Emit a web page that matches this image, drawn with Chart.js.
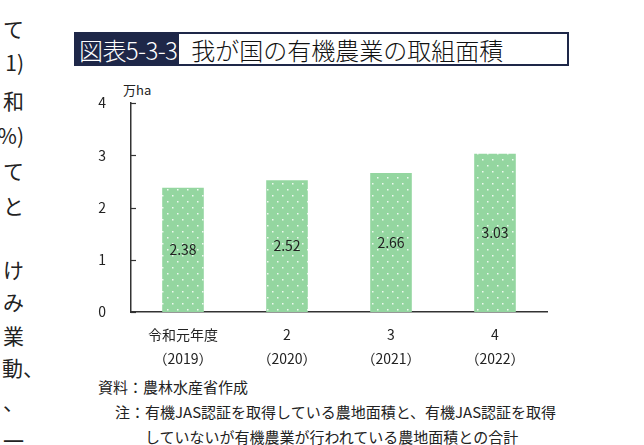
<!DOCTYPE html>
<html lang="ja">
<head>
<meta charset="utf-8">
<script src="https://cdn.jsdelivr.net/npm/chart.js@4.4.0/dist/chart.umd.min.js"></script>
<style>
  html, body { margin: 0; padding: 0; background: #fff; }
  body { width: 644px; height: 445px; position: relative; overflow: hidden;
         font-family: "Noto Sans CJK JP", "Noto Sans", sans-serif; color: #222; }
  #chart { position: absolute; left: 0; top: 0; }
  .side { position: absolute; font-size: 21px; line-height: 1; color: #222; white-space: nowrap; }
  #title { position: absolute; left: 74px; top: 32px; width: 491px; height: 30px;
           border: 2px solid #1e2748; display: flex; align-items: center; font-weight: 300; }
  #title .num { background: #1e2748; color: #fff; height: 100%; display: flex; align-items: center;
                padding: 0 2px 0 3px; font-size: 24px; letter-spacing: -0.6px; }
  #title .txt { font-size: 24px; padding-left: 12px; color: #111; }
  #unit { position: absolute; left: 123px; top: 80px; font-size: 13px; color: #222; }
  .note { position: absolute; font-size: 15px; line-height: 1; white-space: nowrap; color: #222; }
</style>
</head>
<body>
<div class="side" style="right:620px;top:18px">て</div>
<div class="side" style="right:620px;top:52px">1)</div>
<div class="side" style="right:620px;top:90px">和</div>
<div class="side" style="right:620px;top:125px">%)</div>
<div class="side" style="right:620px;top:160px">て</div>
<div class="side" style="right:620px;top:195px">と</div>
<div class="side" style="right:620px;top:259px">け</div>
<div class="side" style="right:620px;top:291px">み</div>
<div class="side" style="right:620px;top:325px">業</div>
<div class="side" style="right:600px;top:357px">動、</div>
<div class="side" style="right:620px;top:391px">、</div>
<div class="side" style="right:620px;top:430px">一</div>

<div id="title"><span class="num">図表5-3-3</span><span class="txt">我が国の有機農業の取組面積</span></div>
<div id="unit">万ha</div>

<canvas id="chart" width="644" height="375"></canvas>

<div class="note" style="left:98px;top:379px">資料：農林水産省作成</div>
<div class="note" style="left:115px;top:404px">注：有機JAS認証を取得している農地面積と、有機JAS認証を取得</div>
<div class="note" style="left:145px;top:429px">していないが有機農業が行われている農地面積との合計</div>

<script>
const categories = [['令和元年度', '（2019）'], ['2', '（2020）'], ['3', '（2021）'], ['4', '（2022）']];
const areaValues = [2.38, 2.52, 2.66, 3.03];
const yTicks = [0, 1, 2, 3, 4];

// dotted green fill
function dotPattern() {
  const c = document.createElement('canvas');
  c.width = 10; c.height = 12;
  const g = c.getContext('2d');
  g.fillStyle = 'rgb(148,214,160)';
  g.fillRect(0, 0, 10, 12);
  g.fillStyle = 'rgba(255,255,255,0.85)';
  g.fillRect(2, 3, 1.5, 1.5);
  g.fillRect(7, 9, 1.5, 1.5);
  return g.createPattern(c, 'repeat');
}

const innerTicks = {
  id: 'innerTicks',
  afterDraw(chart) {
    const y = chart.scales.y, ctx = chart.ctx;
    ctx.save();
    ctx.strokeStyle = '#333';
    ctx.lineWidth = 1.2;
    yTicks.forEach(v => {
      const py = Math.round(y.getPixelForValue(v)) + 0.5;
      ctx.beginPath();
      ctx.moveTo(y.right, py);
      ctx.lineTo(y.right + 5, py);
      ctx.stroke();
    });
    ctx.restore();
  }
};

const barLabels = {
  id: 'barLabels',
  afterDatasetsDraw(chart) {
    const ctx = chart.ctx;
    const meta = chart.getDatasetMeta(0);
    ctx.save();
    ctx.font = '14px "Noto Sans CJK JP", sans-serif';
    ctx.fillStyle = '#222';
    ctx.textAlign = 'center';
    ctx.textBaseline = 'middle';
    meta.data.forEach((bar, i) => {
      ctx.fillText(areaValues[i].toFixed(2), bar.x, (bar.y + bar.base) / 2);
    });
    ctx.restore();
  }
};

new Chart(document.getElementById('chart'), {
  type: 'bar',
  data: {
    labels: categories,
    datasets: [{
      data: areaValues,
      backgroundColor: dotPattern(),
      borderWidth: 0,
      barPercentage: 0.4,
      categoryPercentage: 1.0
    }]
  },
  options: {
    responsive: false,
    animation: false,
    layout: { padding: { left: 0, top: 103, right: 97, bottom: 0 } },
    plugins: { legend: { display: false }, tooltip: { enabled: false } },
    scales: {
      x: {
        afterFit(s) { s.height = 63; },
        grid: { display: false },
        border: { color: '#333', width: 1.5 },
        ticks: {
          color: '#222', padding: 3,
          font: { size: 14, family: '"Noto Sans CJK JP", sans-serif', lineHeight: 1.7 },
          maxRotation: 0, autoSkip: false
        }
      },
      y: {
        min: 0, max: 4,
        afterFit(s) { s.width = 131; },
        afterBuildTicks(s) { s.ticks = yTicks.map(v => ({ value: v })); },
        grid: { display: false },
        border: { color: '#333', width: 1.5 },
        ticks: {
          color: '#222', padding: 17,
          font: { size: 14, family: '"Noto Sans CJK JP", sans-serif' }
        }
      }
    }
  },
  plugins: [innerTicks, barLabels]
});
</script>
</body>
</html>
